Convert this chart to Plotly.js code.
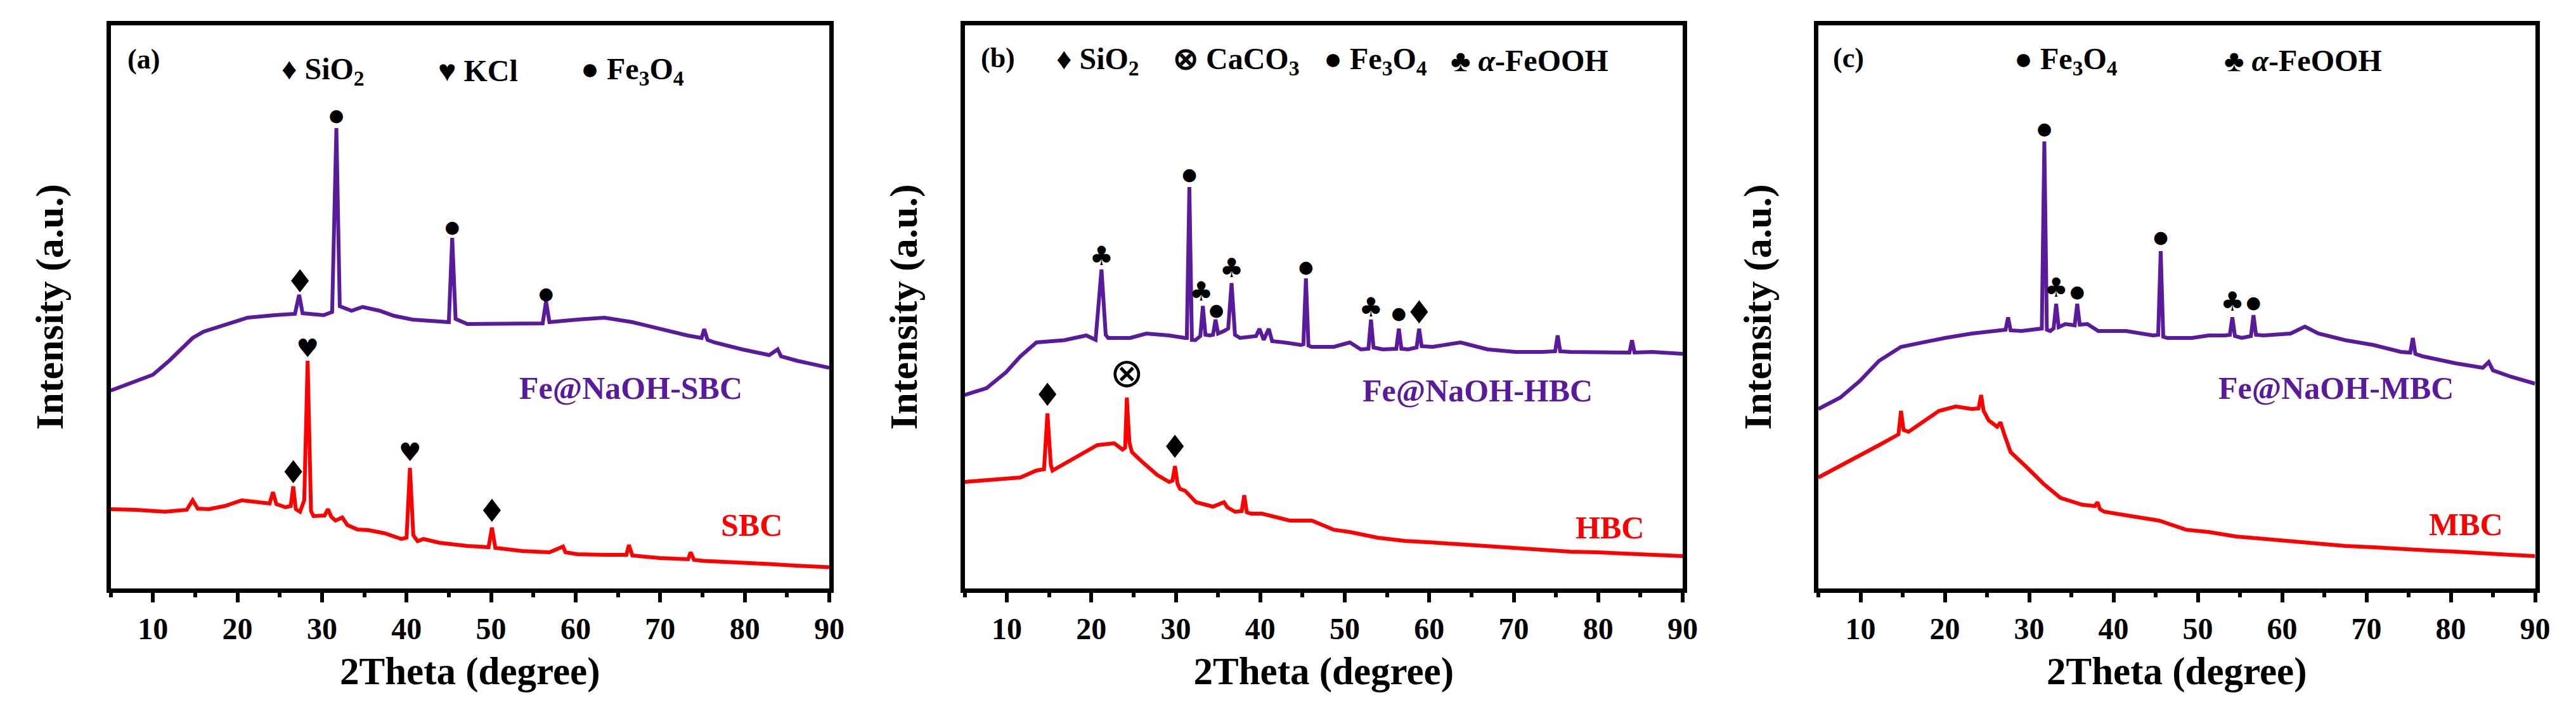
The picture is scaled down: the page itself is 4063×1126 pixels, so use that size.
<!DOCTYPE html>
<html>
<head>
<meta charset="utf-8">
<script src="https://cdn.plot.ly/plotly-3.0.1.min.js"></script>
<style>html,body{margin:0;padding:0;background:#fff;}</style>
</head>
<body>
<div id="chart" style="width:4063px;height:1126px;"></div>
<script>
// ---------- DATA ----------
// Panel (a)
const aFeX = [5,7,10,12,14.7,16,17.9,21.2,24.4,26.8,27.3,27.7,30.2,31.2,31.7,32.1,33.5,34.8,36.8,38.5,40.7,43.9,45.0,45.4,45.8,47.2,50.4,53.7,56.1,56.5,56.9,60.2,63.4,66.7,69.9,73.2,74.9,75.2,75.6,76.4,79.7,82.9,83.9,84.3,86.2,90];
const aFeY = [312,322,337,360,395,405,413,427,431,433,463,434,431,436,726,445,438,444,438,430,424,420,420,553,425,417,417,417,418,453,420,424,427,420,409.5,399,395,409,392,388,377,368,377,366,359,348];
const aX = [5,8,11.4,14,14.7,15.3,16.6,18.5,20.5,23.1,23.8,24.2,24.6,25.7,26.3,26.6,26.9,27.4,27.9,28.3,28.7,29.0,30.3,30.7,31.1,31.6,32.4,33.0,34.2,35.5,37.4,39.4,40.0,40.4,40.8,41.3,42,43.9,47.2,49.7,50.1,50.5,53.7,56.9,58.5,58.8,60.2,63.4,66.0,66.3,66.7,69.9,73.3,73.6,74.0,75.1,79.7,82.9,86,90];
const aY = [125,124,121,124,139,126,125,130,139,136,134,152,133,128,130,161,125,121,139,359,122,114,115,125,113,107,112,100,93,92,87,78,80,190,84,74.5,78,72,67,65,96,64,59,57,66,57,54,53,53,68.5,52,48,46,57,45,43.5,41,38.5,36,33.5];
// Panel (b)
const bFeX = [5,7.6,9.9,11.6,13.5,16.8,19.4,20.5,21.2,21.7,22.0,24.6,26.5,29.2,31.1,31.3,31.6,31.9,32.3,32.9,33.2,33.5,34.0,34.4,34.7,35.0,35.7,36.2,36.6,37.0,37.6,39.5,39.9,40.4,41.0,41.4,42.8,44.8,45.1,45.4,45.7,46.1,48.7,50.6,51.9,52.8,53.1,53.4,54.5,56.1,56.4,56.7,57.5,58.5,58.8,59.1,60.4,63.7,66.9,70.2,73.4,74.9,75.2,75.5,76.7,79.9,83.7,84.0,84.3,86.4,90];
const bFeY = [305,316,341,366,388,391.5,399,392,503,400,395,395,402,399,395,395,633,392,391.5,398,445.5,400,399,400,424,402,406,410,481.5,400,395,398,409.5,392,409.5,390,388,384,385,489,383,381,381,388,377,378,424,380,377,378,409.5,378,377,380,409.5,382,381,388,377,373,373,374,399,374,373,373,372,391.5,372,373,370];
const bX = [5,8.3,11.6,13.5,14.4,14.8,15.2,15.4,16.8,18.8,20.7,22.7,23.7,24.0,24.2,24.5,24.8,25.9,27.8,29.2,29.6,29.9,30.2,30.5,31.1,32.4,34.4,35.7,36.1,37.0,37.8,38.1,38.4,38.9,40.2,43.5,46.1,48.7,50.6,53.9,57.1,60.4,63.7,66.9,70.2,73.4,76.7,79.9,83.2,86.4,90];
const bY = [168,172,175,186,188,276,195,186,197,211,226,229,219,222,301,230,215,201,179,168,170,193,165,157,154,136,129,136,128,121,122,147,120,118,118,107,107,92.6,89,80,75,72.4,69.5,67,64,60,58,57,55,53,51];
// Panel (c)
const cFeX = [5,7.6,9.9,12.2,14.8,17.4,20.0,23.2,25.8,27.2,27.5,27.8,29.1,31.1,31.5,31.8,32.1,32.5,32.9,33.2,33.5,34.3,35.4,35.7,36.0,36.9,38.2,41.5,44.7,45.3,45.6,45.9,46.4,49.3,51.3,53.2,53.8,54.1,54.4,55.2,56.3,56.6,56.9,57.8,61.0,62.7,64.3,67.5,70.8,74.1,75.2,75.5,75.8,76.7,80.6,83.8,84.5,85.0,87.1,90];
const cFeY = [283,301,327,359,381,388,395,402,406,408,427.5,407,406,409.5,410,705,408,406,410,449,412,417,415,449,416,417,406,406,399,400,532,397,395,395,399,399,400,427.5,398,395,398,431,400,399,402,413,402,391.5,384,373,372,395,370,366,355,348,357,344,334,323];
const cX = [5,7.6,10.2,12.2,14.1,14.5,14.8,15.1,15.7,17.4,19.3,21.3,23.2,24.0,24.3,24.6,25.2,26.2,26.6,27.0,27.8,29.8,31.7,33.7,36.3,37.8,38.1,38.4,38.9,42.1,45.4,48.6,51.3,54.5,57.8,61.0,64.3,67.5,70.8,74.1,77.3,80.6,83.8,87.1,90];
const cY = [175,193,211,226,240,243,280,250,247,262,280,287,283,284,305,280,265,255,262,245,215,190,165,143,132,130,136,125,121,114,107,92.6,89,82,78,75,71,67,65,62,60,58,55,53,51];

// Phase markers (glyph, 2theta, height)
const aMarkS = ['●','●','●','♦','♥','♥','♦','♦'];
const aMarkX = [31.7,45.4,56.5,27.4,28.3,40.4,26.6,50.1];
const aMarkY = [744,568,463,480,375,211,179,118];
const bMarkS = ['♣','●','♣','●','♣','●','♣','●','♦','♦','⊗','♦'];
const bMarkX = [21.2,31.6,33.0,34.8,36.6,45.4,53.1,56.4,58.8,14.8,24.2,29.9];
const bMarkY = [521,651,465,437,502,505,440,432,431,301,334,219];
const cMarkS = ['●','♣','●','●','♣','●'];
const cMarkX = [31.8,33.2,35.7,45.6,54.1,56.6];
const cMarkY = [723,471,466,552,449,449];

// Tick labels
const tickVals = [10,20,30,40,50,60,70,80,90];
const tickText = ['10','20','30','40','50','60','70','80','90'];

// Text
const panelTags = ['(a)','(b)','(c)'];
const sampleFe = ['Fe@NaOH-SBC','Fe@NaOH-HBC','Fe@NaOH-MBC'];
const sampleRaw = ['SBC','HBC','MBC'];
const legendA = ['♦ SiO<sub>2</sub>','♥ KCl','● Fe<sub>3</sub>O<sub>4</sub>'];
const legendAX = [25.06,43.58,60.46];
const legendB = ['♦ SiO<sub>2</sub>','⊗ CaCO<sub>3</sub>','● Fe<sub>3</sub>O<sub>4</sub>','♣ <i>α</i>-FeOOH'];
const legendBX = [15.67,29.5,47.35,62.35];
const legendC = ['● Fe<sub>3</sub>O<sub>4</sub>','♣ <i>α</i>-FeOOH'];
const legendCX = [28.1,53.0];

// ---------- STYLE ----------
const PURPLE = '#5a1a9c';
const RED = '#ff0000';
const FONT = 'Liberation Serif, Times New Roman, serif';
const GLYPH_SIZE = {'●':27, '♦':50, '♥':40, '♣':42, '⊗':64};
const W = 4063, H = 1126;
const domX = [[174.5/W, 1308/W],[1521.5/W, 2654/W],[2868/W, 3998.5/W]];
const domY = [1-928/H, 1-40/H];

const traces = [];
function addPanel(i, feX, feY, rX, rY, mS, mX, mY){
  const xa = i===0 ? 'x' : 'x'+(i+1);
  const ya = i===0 ? 'y' : 'y'+(i+1);
  traces.push({x: feX, y: feY, xaxis: xa, yaxis: ya, type:'scatter', mode:'lines',
    line:{color:PURPLE, width:6}, hoverinfo:'skip'});
  traces.push({x: rX, y: rY, xaxis: xa, yaxis: ya, type:'scatter', mode:'lines',
    line:{color:RED, width:6}, hoverinfo:'skip'});
  traces.push({x: mX, y: mY, text: mS, xaxis: xa, yaxis: ya, type:'scatter', mode:'text',
    textposition:'middle center',
    textfont:{family:'DejaVu Sans', size: mS.map(s=>GLYPH_SIZE[s]), color:'#000'}, hoverinfo:'skip'});
}
addPanel(0, aFeX, aFeY, aX, aY, aMarkS, aMarkX, aMarkY);
addPanel(1, bFeX, bFeY, bX, bY, bMarkS, bMarkX, bMarkY);
addPanel(2, cFeX, cFeY, cX, cY, cMarkS, cMarkX, cMarkY);

const layout = {
  width: W, height: H,
  margin: {l:0, r:0, t:0, b:0},
  paper_bgcolor:'#fff', plot_bgcolor:'#fff',
  showlegend:false,
  font:{family:FONT, color:'#000'},
  annotations: []
};

for (let i=0;i<3;i++){
  const sx = i===0 ? '' : String(i+1);
  layout['xaxis'+sx] = {
    domain: domX[i], anchor: 'y'+sx, range:[5,90],
    showline:true, mirror:true, linewidth:7, linecolor:'#000',
    ticks:'outside', ticklen:15, tickwidth:6, tickcolor:'#000',
    tickmode:'array', tickvals: tickVals, ticktext: tickText,
    tickfont:{family:FONT, size:48, weight:'bold', color:'#000'},
    minor:{ticks:'outside', ticklen:7, tickwidth:6, tickcolor:'#000', dtick:5, tick0:0, showgrid:false},
    showgrid:false, zeroline:false,
    title:{text:'2Theta (degree)', font:{family:FONT, size:61, weight:'bold', color:'#000'}, standoff:22}
  };
  layout['yaxis'+sx] = {
    domain: domY, anchor: 'x'+sx, range:[0,888],
    showline:true, mirror:true, linewidth:7, linecolor:'#000',
    ticks:'', showticklabels:false, showgrid:false, zeroline:false,
    title:{text:'Intensity (a.u.)', font:{family:FONT, size:62, weight:'bold', color:'#000'}, standoff:50}
  };
}

function ann(i, text, x, y, opts){
  const sx = i===0 ? '' : String(i+1);
  layout.annotations.push(Object.assign({
    xref:'x'+sx, yref:'y'+sx, x:x, y:y, text:text, showarrow:false,
    xanchor:'left', yanchor:'middle',
    font:{family:FONT, size:48, weight:'bold', color:'#000'}
  }, opts||{}));
}
// Panel tags
ann(0, panelTags[0], 6.84, 834, {font:{family:FONT, size:44, weight:'bold', color:'#000'}});
ann(1, panelTags[1], 6.76, 836, {font:{family:FONT, size:44, weight:'bold', color:'#000'}});
ann(2, panelTags[2], 6.58, 836, {font:{family:FONT, size:44, weight:'bold', color:'#000'}});
// Phase legends
legendA.forEach((t,k)=>ann(0, t, legendAX[k], 816));
legendB.forEach((t,k)=>ann(1, t, legendBX[k], 832));
legendC.forEach((t,k)=>ann(2, t, legendCX[k], 832));
// Sample labels
const feLabX = [66.5, 65.7, 66.4], feLabY = [316, 312, 316];
const rawLabX = [80.8, 81.4, 81.8], rawLabY = [100, 96, 101];
for (let i=0;i<3;i++){
  ann(i, sampleFe[i], feLabX[i], feLabY[i], {xanchor:'center', font:{family:FONT, size:50, weight:'bold', color:PURPLE}});
  ann(i, sampleRaw[i], rawLabX[i], rawLabY[i], {xanchor:'center', font:{family:FONT, size:50, weight:'bold', color:RED}});
}

Plotly.newPlot('chart', traces, layout, {staticPlot:true, displayModeBar:false});
</script>
</body>
</html>
